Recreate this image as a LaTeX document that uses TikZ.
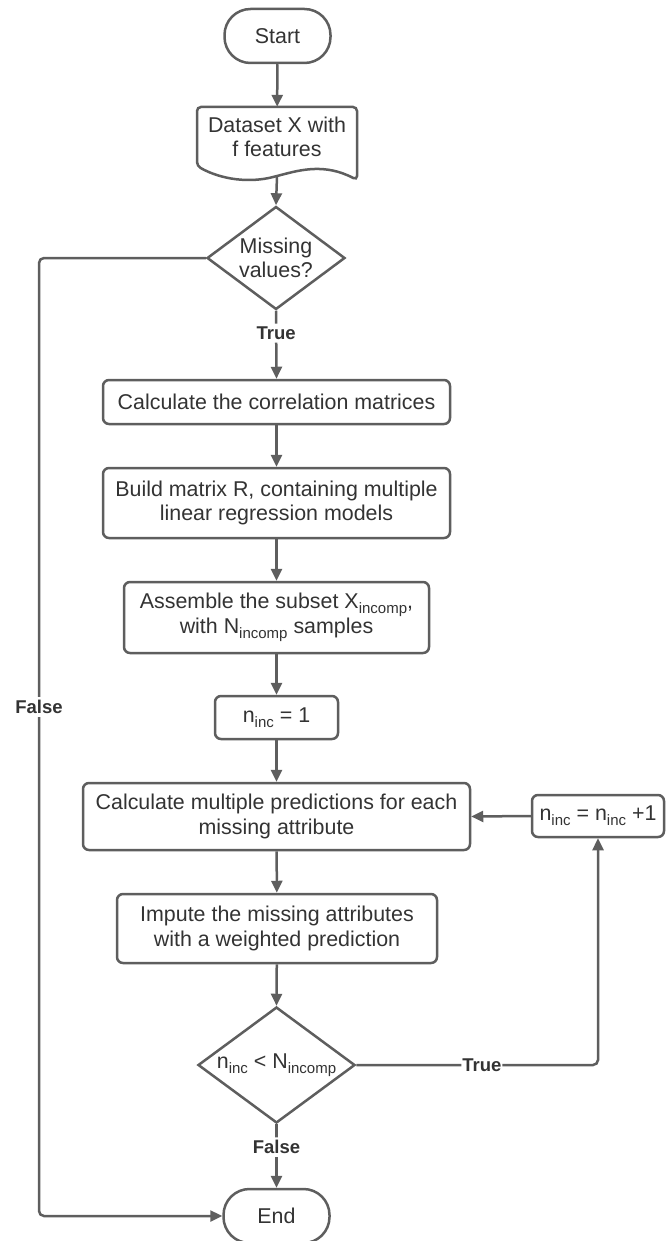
\documentclass[tikz,border=0pt]{standalone}
\usepackage{fontspec}
\setmainfont{Liberation Sans}
\usetikzlibrary{shapes.geometric,arrows.meta}
\definecolor{ln}{HTML}{5E5E5E}
\definecolor{tx}{HTML}{333333}
\newcommand{\sbs}[1]{\raisebox{-0.24em}{\fontsize{15}{15}\selectfont #1}}
\begin{document}
\begin{tikzpicture}[x=1pt,y=-1pt,
  every node/.style={font=\fontsize{21.4}{24.6}\selectfont, text=tx},
  procbox/.style={draw=ln, line width=2.5pt, rounded corners=6pt, fill=white, align=center, inner sep=0pt},
  termbox/.style={draw=ln, line width=2.5pt, rounded corners=26pt, fill=white, align=center, inner sep=0pt, minimum width=106pt, minimum height=54pt},
  decbox/.style={diamond, draw=ln, line width=2.5pt, fill=white, inner sep=0pt},
  conn/.style={draw=ln, line width=2.5pt, rounded corners=5pt, -{Triangle[length=12pt,width=11pt]}},
  lbl/.style={fill=white, inner sep=3pt, font=\bfseries\fontsize{18.5}{20}\selectfont},
]
\useasboundingbox (0,0) rectangle (665,1241);

% nodes
\node[termbox] (start) at (277.5,36) {Start};

\node[inner sep=0pt, minimum width=160pt, minimum height=69pt] (data) at (277,141.5) {};
\draw[draw=ln, line width=2.5pt, fill=white, rounded corners=4pt]
  (197,140) -- (197,107) -- (357,107) -- (357,180)
  .. controls (325,163) and (300,170) .. (277,176)
  .. controls (250,183) and (222,180) .. (197,166) -- cycle;
\node[align=center, inner sep=0pt] (datat) at (277,137) {Dataset X with\\f features};

\node[decbox, minimum width=138pt, minimum height=103pt,
  label={[align=center, inner sep=0pt]center:Missing\\values?}] (d1) at (276,258) {};

\node[procbox, minimum width=347pt, minimum height=44pt] (b1) at (276.5,402) {Calculate the correlation matrices};
\node[procbox, minimum width=347pt, minimum height=70pt] (b2) at (276.5,503) {Build matrix R, containing multiple\\linear regression models};
\node[procbox, minimum width=305pt, minimum height=71pt] (b3) at (276.5,617.5) {Assemble the subset X\sbs{incomp},\\with N\sbs{incomp} samples};
\node[procbox, minimum width=123pt, minimum height=43pt] (b4) at (276.5,717.5) {n\sbs{inc} = 1};
\node[procbox, minimum width=387pt, minimum height=67pt] (b5) at (276.5,816.5) {Calculate multiple predictions for each\\missing attribute};
\node[procbox, minimum width=132pt, minimum height=42pt] (b6) at (598,816) {n\sbs{inc} = n\sbs{inc} +1};
\node[procbox, minimum width=320pt, minimum height=69pt] (b7) at (277,928.5) {Impute the missing attributes\\with a weighted prediction};

\node[decbox, minimum width=157pt, minimum height=116pt,
  label={[inner sep=0pt]center:n\sbs{inc} < N\sbs{incomp}}] (d2) at (276.5,1065) {};

\node[termbox] (end) at (276.5,1216) {End};

\coordinate (lc) at (39,707);

% connectors
\draw[conn] (start) -- (data);
\draw[conn] (data.south) -- (d1.north);
\draw[conn] (d1.south) -- node[lbl, pos=0.33] (t1) {True} (b1.north);
\draw[conn] (b1) -- (b2);
\draw[conn] (b2) -- (b3);
\draw[conn] (b3) -- (b4);
\draw[conn] (b4) -- (b5);
\draw[conn] (b5) -- (b7);
\draw[conn] (b7) -- (d2.north);
\draw[conn] (d2.south) -- node[lbl, pos=0.36] (f2) {False} (end.north);
\draw[conn] (d2.east) -| node[lbl, pos=0.26, inner sep=1pt] (t2) {True} (b6.south);
\draw[conn] (b6.west) -- (b5.east);
\draw[conn] (d1.west) -| (lc) |- (end.west);
\node[lbl] (f1) at (lc) {False};
\end{tikzpicture}
\end{document}
